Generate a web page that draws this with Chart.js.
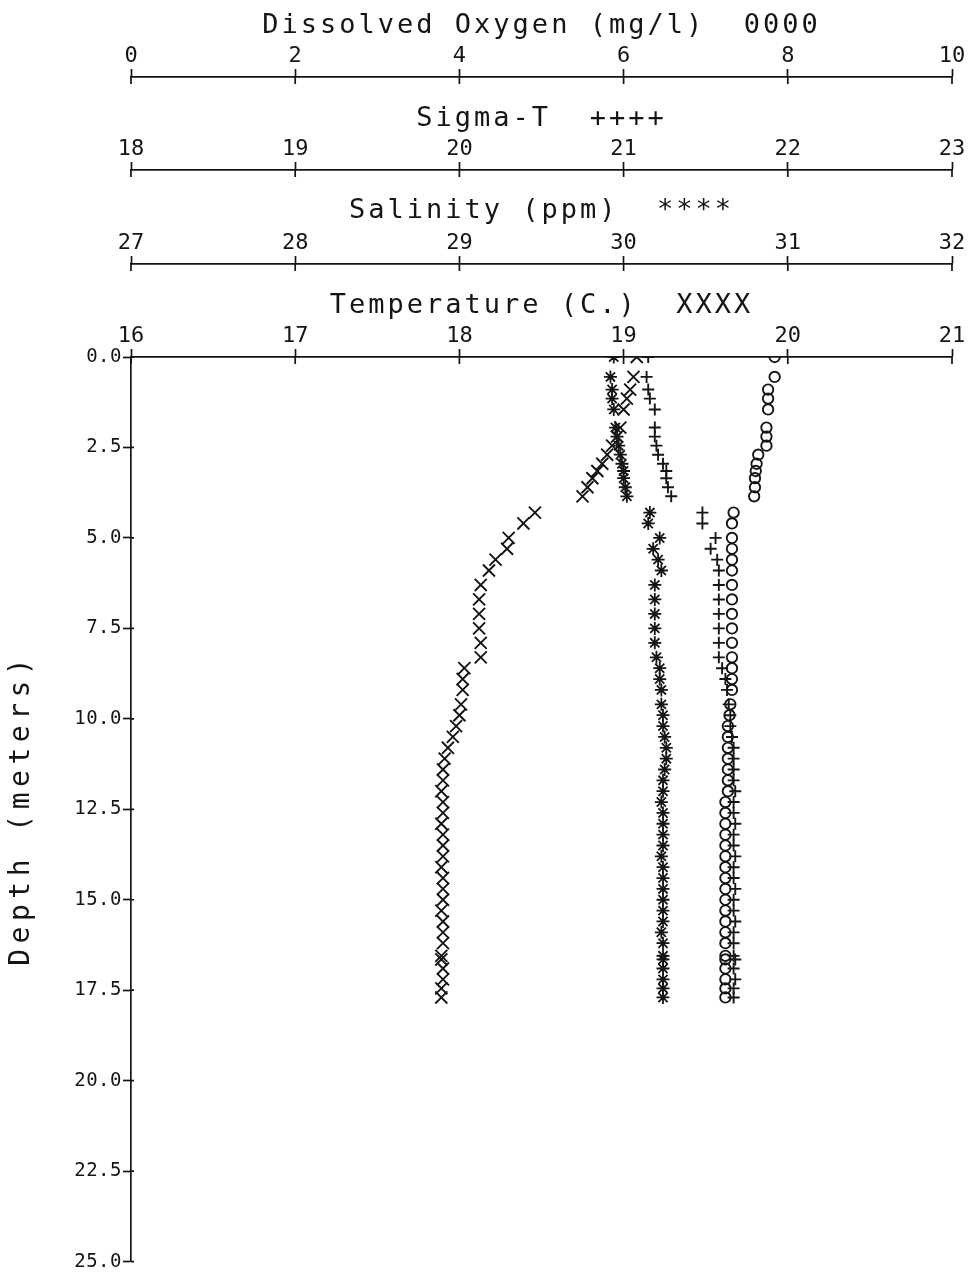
<!DOCTYPE html>
<html>
<head>
<meta charset="utf-8">
<title>Water column profile</title>
<script src="https://cdn.jsdelivr.net/npm/chart.js@4.4.1/dist/chart.umd.min.js"></script>
<style>
  html, body { margin: 0; padding: 0; background: #fff; }
  #wrap { width: 968px; height: 1274px; position: relative; }
</style>
</head>
<body>
<div id="wrap"><canvas id="profile"></canvas></div>
<script>
'use strict';

// depth of each cast sample (m)
let depth = [
  0.0, 0.55, 0.9, 1.15, 1.45, 1.95, 2.2, 2.45, 2.7, 2.95, 3.15, 3.35, 3.6, 3.85,
  4.3, 4.6, 5.0, 5.3, 5.6, 5.9, 6.3, 6.7, 7.1, 7.5, 7.9,
  8.3, 8.6, 8.9, 9.2, 9.6, 9.9, 10.2, 10.5, 10.8, 11.1, 11.4,
  11.7, 12.0, 12.3, 12.6, 12.9, 13.2, 13.5, 13.8, 14.1, 14.4, 14.7,
  15.0, 15.3, 15.6, 15.9, 16.2, 16.55, 16.65, 16.9, 17.2, 17.45, 17.7
];

let temperature = [
  19.08, 19.06, 19.04, 19.02, 19.00, 18.98, 18.96, 18.93, 18.90, 18.87, 18.84, 18.81, 18.78, 18.75,
  18.46, 18.39, 18.30, 18.29, 18.22, 18.18, 18.13, 18.12, 18.12, 18.12, 18.13,
  18.13, 18.03, 18.02, 18.02, 18.01, 18.00, 17.98, 17.96, 17.93, 17.91, 17.90,
  17.90, 17.89, 17.90, 17.90, 17.89, 17.90, 17.90, 17.90, 17.89, 17.90, 17.90,
  17.90, 17.89, 17.90, 17.90, 17.90, 17.89, 17.89, 17.90, 17.90, 17.89, 17.89
];

let salinity = [
  29.94, 29.92, 29.93, 29.93, 29.94, 29.95, 29.96, 29.97, 29.98, 29.99, 30.00, 30.00, 30.01, 30.02,
  30.16, 30.15, 30.22, 30.18, 30.21, 30.23, 30.19, 30.19, 30.19, 30.19, 30.19,
  30.20, 30.22, 30.22, 30.23, 30.23, 30.24, 30.24, 30.25, 30.26, 30.26, 30.25,
  30.24, 30.24, 30.23, 30.24, 30.24, 30.24, 30.24, 30.23, 30.24, 30.24, 30.24,
  30.24, 30.24, 30.24, 30.23, 30.24, 30.24, 30.24, 30.24, 30.24, 30.24, 30.24
];

let sigmaT = [
  21.15, 21.14, 21.15, 21.16, 21.19, 21.19, 21.19, 21.20, 21.21, 21.24, 21.26, 21.26, 21.27, 21.29,
  21.48, 21.48, 21.56, 21.53, 21.57, 21.58, 21.58, 21.58, 21.58, 21.58, 21.58,
  21.58, 21.60, 21.62, 21.63, 21.64, 21.65, 21.65, 21.66, 21.67, 21.67, 21.67,
  21.67, 21.68, 21.67, 21.67, 21.68, 21.67, 21.67, 21.68, 21.67, 21.67, 21.68,
  21.67, 21.67, 21.68, 21.67, 21.67, 21.67, 21.68, 21.67, 21.68, 21.67, 21.67
];

let oxygen = [
  7.84, 7.84, 7.76, 7.76, 7.76, 7.74, 7.74, 7.74, 7.64, 7.62, 7.61, 7.60, 7.60, 7.59,
  7.34, 7.32, 7.32, 7.32, 7.32, 7.32, 7.32, 7.32, 7.32, 7.32, 7.32,
  7.32, 7.32, 7.32, 7.32, 7.30, 7.29, 7.27, 7.27, 7.27, 7.27, 7.27,
  7.27, 7.27, 7.24, 7.24, 7.24, 7.24, 7.24, 7.24, 7.24, 7.24, 7.24,
  7.24, 7.24, 7.24, 7.24, 7.24, 7.24, 7.24, 7.24, 7.24, 7.24, 7.24
];

// axis ranges [min, max, step] and titles
let depthTicks = [0, 25, 2.5];
let tempTicks = [16, 21, 1];
let salTicks = [27, 32, 1];
let sigTicks = [18, 23, 1];
let doTicks = [0, 10, 2];
let titles = {
  temp: 'Temperature (C.)  XXXX',
  sal: 'Salinity (ppm)  ****',
  sig: 'Sigma-T  ++++',
  dox: 'Dissolved Oxygen (mg/l)  0000',
  y: 'Depth (meters)'
};

const INK = '#151515';
const MONO = '"DejaVu Sans Mono", "Liberation Mono", monospace';

// canvas letter spacing for titles / tick labels per axis
let spacing = {
  temp: ['3px', '0px'], sal: ['3px', '0px'], sig: ['3px', '0px'], dox: ['3px', '0px'],
  y: ['5.5px', '0.5px']
};

function pairs(values) {
  return depth.map((d, i) => ({ x: values[i], y: d }));
}

function topAxis(id, range, weight, titlePad, height) {
  return {
    type: 'linear', axis: 'x', position: 'top', weight: weight,
    min: range[0], max: range[1],
    ticks: {
      stepSize: range[2], autoSkip: false, maxRotation: 0, padding: 0,
      color: INK, font: { family: MONO, size: 22 }
    },
    grid: { drawOnChartArea: false, drawTicks: true, tickLength: 8, tickWidth: 1.7, tickColor: INK, color: INK },
    border: { display: true, color: INK, width: 1.7 },
    title: {
      display: true, text: titles[id], color: INK,
      font: { family: MONO, size: 27 }, padding: { top: titlePad, bottom: 0 }
    },
    afterFit: function (scale) { scale.height = height; }
  };
}

// wrap scale title/label drawing so each axis gets its own letter spacing
const letterSpacingPlugin = {
  id: 'letterSpacing',
  beforeDraw(chart) {
    Object.values(chart.scales).forEach(scale => {
      if (scale._spaced) return;
      scale._spaced = true;
      let sp = spacing[scale.id] || ['0px', '0px'];
      let drawTitle = scale.drawTitle;
      let drawLabels = scale.drawLabels;
      scale.drawTitle = function () {
        this.ctx.save();
        this.ctx.letterSpacing = sp[0];
        drawTitle.call(this);
        this.ctx.restore();
      };
      scale.drawLabels = function (area) {
        this.ctx.save();
        this.ctx.letterSpacing = sp[1];
        drawLabels.call(this, area);
        this.ctx.restore();
      };
    });
  }
};

// tick marks poke through to the other side of each axis line
const crossTicks = {
  id: 'crossTicks',
  afterDraw(chart) {
    let ctx = chart.ctx;
    ctx.save();
    ctx.strokeStyle = INK;
    ctx.lineWidth = 1.7;
    ctx.beginPath();
    Object.values(chart.scales).forEach(s => {
      s.ticks.forEach(t => {
        let p = s.getPixelForValue(t.value);
        if (s.isHorizontal()) {
          ctx.moveTo(p, s.bottom);
          ctx.lineTo(p, s.bottom + 7);
        } else {
          ctx.moveTo(s.right, p);
          ctx.lineTo(s.right + 3, p);
        }
      });
    });
    ctx.stroke();
    ctx.restore();
  }
};

let ctx = document.getElementById('profile').getContext('2d');
let profileChart = new Chart(ctx, {
  type: 'scatter',
  data: {
    datasets: [
      {
        label: 'Temperature', data: pairs(temperature), xAxisID: 'temp', yAxisID: 'y',
        pointStyle: 'crossRot', radius: 8.5, borderColor: INK, borderWidth: 1.9, backgroundColor: INK
      },
      {
        label: 'Salinity', data: pairs(salinity), xAxisID: 'sal', yAxisID: 'y',
        pointStyle: 'star', radius: 6.5, borderColor: INK, borderWidth: 1.8, backgroundColor: INK
      },
      {
        label: 'Sigma-T', data: pairs(sigmaT), xAxisID: 'sig', yAxisID: 'y',
        pointStyle: 'cross', radius: 6, borderColor: INK, borderWidth: 1.9, backgroundColor: INK
      },
      {
        label: 'Dissolved Oxygen', data: pairs(oxygen), xAxisID: 'dox', yAxisID: 'y',
        pointStyle: 'circle', radius: 5.2, borderColor: INK, borderWidth: 1.9, backgroundColor: 'rgba(0,0,0,0)'
      }
    ]
  },
  options: {
    responsive: true,
    maintainAspectRatio: false,
    animation: false,
    devicePixelRatio: 1,
    layout: { padding: { top: 0, left: 0, right: 16, bottom: 12 } },
    plugins: { legend: { display: false }, tooltip: { enabled: false } },
    scales: {
      temp: topAxis('temp', tempTicks, 0, 26, 93),
      sal: topAxis('sal', salTicks, 1, 25, 94),
      sig: topAxis('sig', sigTicks, 2, 26, 93),
      dox: topAxis('dox', doTicks, 3, 10, 77),
      y: {
        type: 'linear', position: 'left', reverse: true,
        min: depthTicks[0], max: depthTicks[1],
        ticks: {
          stepSize: depthTicks[2], padding: 1, color: INK,
          font: { family: MONO, size: 19 },
          callback: v => Number(v).toFixed(1)
        },
        grid: { drawOnChartArea: false, drawTicks: true, tickLength: 8, tickWidth: 1.7, tickColor: INK, color: INK },
        border: { display: true, color: INK, width: 1.7 },
        title: {
          display: true, text: titles.y, color: INK,
          font: { family: MONO, size: 28 }, padding: { top: 5, bottom: 0 }
        },
        afterFit: function (scale) { scale.width = 131; }
      }
    }
  },
  plugins: [letterSpacingPlugin, crossTicks]
});
</script>
</body>
</html>
